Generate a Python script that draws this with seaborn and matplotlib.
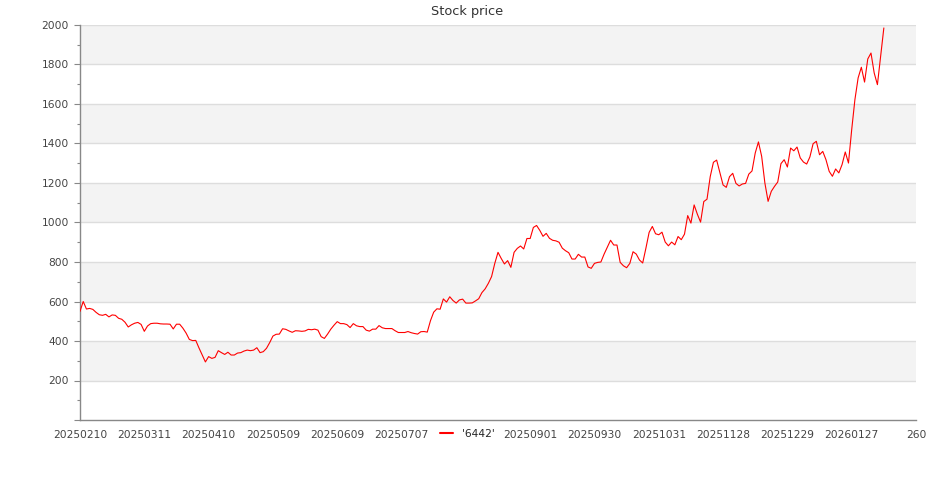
import numpy as np
import pandas as pd
import matplotlib
matplotlib.use("Agg")
import matplotlib.pyplot as plt
import seaborn as sns
from matplotlib.ticker import MultipleLocator

# Daily closing prices (trading-day index 0..250)
price = [
    550, 600, 562, 565, 560, 545, 533, 530, 535, 522,
    532, 530, 515, 510, 495, 471, 482, 490, 494, 484,
    449, 476, 488, 490, 490, 487, 486, 486, 485, 461,
    485, 485, 465, 440, 408, 402, 403, 365, 330, 294,
    321, 312, 317, 351, 341, 332, 343, 329, 329, 339,
    341, 349, 354, 351, 354, 366, 341, 346, 363, 392,
    425, 434, 435, 462, 459, 451, 444, 452, 451, 449,
    451, 459, 457, 460, 455, 422, 413, 435, 460, 480,
    498, 488, 488, 483, 468, 488, 477, 473, 473, 455,
    450, 460, 460, 478, 467, 463, 463, 463, 452, 443,
    443, 443, 448, 442, 438, 435, 447, 448, 445, 503,
    546, 563, 561, 613, 597, 624, 605, 592, 608, 612,
    592, 592, 593, 603, 614, 645, 664, 692, 726, 793,
    849, 818, 790, 807, 773, 849, 869, 881, 866, 919,
    919, 975, 985, 960, 930, 945, 920, 910, 907, 900,
    870, 857, 847, 815, 815, 839, 825, 825, 775, 768,
    793, 798, 800, 840, 875, 910, 886, 886, 798, 781,
    771, 793, 852, 840, 810, 795, 870, 950, 980, 943,
    938, 951, 901, 882, 901, 887, 929, 913, 941, 1035,
    997, 1089, 1042, 1002, 1106, 1118, 1232, 1305, 1316, 1252,
    1190, 1178, 1232, 1249, 1198, 1185, 1195, 1198, 1245, 1261,
    1352, 1408, 1335, 1200, 1107, 1158, 1183, 1205, 1298, 1318,
    1281, 1377, 1363, 1382, 1327, 1306, 1296, 1332, 1399, 1411,
    1343, 1360, 1318, 1259, 1234, 1271, 1251, 1293, 1357, 1301,
    1470, 1622, 1732, 1786, 1711, 1828, 1858, 1757, 1698, 1841,
    1985,
]

tick_pos = list(range(0, 261, 20))
# the label at index 120 is hidden behind the legend in the reference
tick_labels = ['20250210', '20250311', '20250410', '20250509', '20250609',
               '20250707', '', '20250901', '20250930', '20251031',
               '20251128', '20251229', '20260127', '260']

y_ticks = list(range(0, 2001, 200))
band_starts = [200, 600, 1000, 1400, 1800]

df = pd.DataFrame({'day': np.arange(len(price)), 'price': price})

sns.set_style("white")
plt.rcParams['font.family'] = ['DejaVu Sans']

fig = plt.figure(figsize=(9.35, 5), dpi=100)
ax = fig.add_axes([80 / 935, 80 / 500, 836 / 935, 395 / 500])

# alternating background bands
for b in band_starts:
    ax.axhspan(b, b + 200, color='#f3f3f3', zorder=0, lw=0)
for y in y_ticks[1:]:
    ax.axhline(y, color='#dddddd', lw=1, zorder=1)

sns.lineplot(data=df, x='day', y='price', color='red', linewidth=0.8,
             ax=ax, label="'6442'", legend=False, zorder=3)

ax.set_xlim(0, 260)
ax.set_ylim(0, 2000)
ax.set_xlabel('')
ax.set_ylabel('')

ax.set_xticks(tick_pos)
ax.set_xticklabels(tick_labels)
ax.set_yticks(y_ticks)
ax.set_yticklabels([''] + [str(v) for v in y_ticks[1:]])
ax.yaxis.set_minor_locator(MultipleLocator(100))

ax.tick_params(axis='x', length=0, pad=7, labelsize=7.7, colors='#444444')
ax.tick_params(axis='y', which='major', left=True, length=4, width=0.8,
               color='#888888', pad=4, labelsize=7.7, labelcolor='#444444')
ax.tick_params(axis='y', which='minor', left=True, length=2.5, width=0.8,
               color='#888888')

for side in ['top', 'right']:
    ax.spines[side].set_visible(False)
for side in ['left', 'bottom']:
    ax.spines[side].set_color('#888888')
    ax.spines[side].set_linewidth(1)

fig.suptitle('Stock price', y=1 - 12 / 500, va='center',
             fontsize=9.3, color='#333333')

handles, labels = ax.get_legend_handles_labels()
leg = fig.legend(handles, labels, loc='center', bbox_to_anchor=(0.5, 1 - 434 / 500),
                 frameon=True, facecolor='white', edgecolor='none', framealpha=1,
                 fontsize=7.7, handlelength=1.2, handletextpad=0.8,
                 borderpad=0.2)
for line in leg.get_lines():
    line.set_linewidth(1.5)

fig.savefig('out.png', dpi=100)
